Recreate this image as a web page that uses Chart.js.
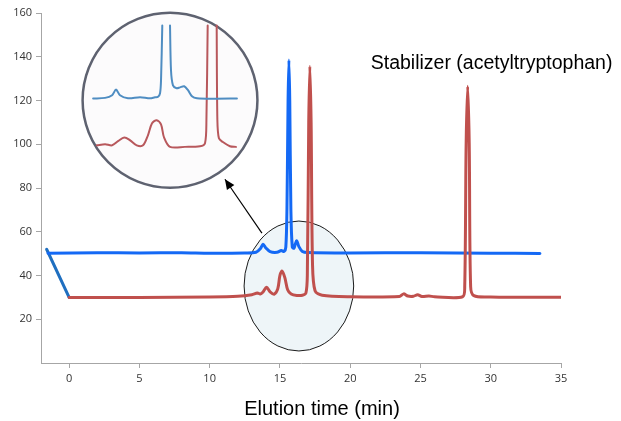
<!DOCTYPE html>
<html>
<head>
<meta charset="utf-8">
<script src="https://cdn.jsdelivr.net/npm/chart.js@4.4.1/dist/chart.umd.min.js"></script>
<style>
html,body{margin:0;padding:0;background:#fff;}
#wrap{width:621px;height:421px;position:relative;}
</style>
</head>
<body>
<div id="wrap"><canvas id="c" width="621" height="421"></canvas></div>
<script>
// ---- data (elution time in min, signal) ----
const xTicks = [0, 5, 10, 15, 20, 25, 30, 35];
const yTicks = [20, 40, 60, 80, 100, 120, 140, 160];

const blueTrace = [
  [-1.5,50.2],[2,50.4],[5,50.3],[8,50.4],[10,50.2],[12.5,50.3],[13.3,50.6],[13.6,52.2],[13.8,54.3],
  [14.0,52.6],[14.3,50.9],[14.8,50.6],[15.1,51.4],[15.3,51.0],[15.42,53],[15.5,70],[15.58,120],
  [15.64,138.5],[15.7,120],[15.78,70],[15.88,53],[16.0,52.5],[16.1,54.5],[16.2,55.8],[16.35,53.2],
  [16.6,51.0],[17,50.5],[20,50.3],[25,50.4],[30,50.2],[33.5,50.1]
];
const blueStart = [[-1.6,52],[0,30]];
const redTrace = [
  [0,30],[5,30],[10,30.2],[12,30.5],[13,31.2],[13.4,32],[13.6,31.5],[13.8,32.5],[14.05,34.6],
  [14.3,32.5],[14.6,31.5],[14.85,34],[15.0,40],[15.15,42],[15.35,39],[15.55,33.5],[15.8,31.5],
  [16.2,30.9],[16.6,31],[16.85,32],[16.95,40],[17.05,110],[17.13,135.7],[17.22,110],[17.32,45],
  [17.5,33],[18,31],[20,30.3],[23.5,30.4],[23.8,31.6],[24.1,30.6],[24.5,30.5],[24.8,31.2],
  [25.1,30.4],[25.6,30.6],[26,30.3],[28,30.3],[28.15,35],[28.25,100],[28.36,126.5],[28.47,100],
  [28.57,35],[28.8,30.8],[30,30.2],[35,30]
];
// zoomed inset traces (drawn in the same axes)
const insetBlue = [
  [1.71,120.9],[2.56,121.2],[3.06,122.4],[3.34,125.0],[3.62,122.4],[4.19,121.0],[5.05,121.5],
  [5.76,121.0],[6.11,121.5],[6.33,121.7],[6.47,123.3],[6.54,129.2],[6.63,154.3],[6.9,null],
  [7.18,154.3],[7.25,133.8],[7.39,126.9],[7.65,125.6],[7.89,126.0],[8.19,126.5],[8.46,124.7],
  [8.74,121.9],[9.10,121.0],[10.38,120.8],[11.94,120.9]
];
const insetRed = [
  [1.97,99.5],[2.56,100.0],[3.06,99.5],[3.48,101.4],[3.93,103.1],[4.34,101.8],[4.81,99.5],
  [5.26,99.5],[5.61,104.1],[5.90,109.6],[6.23,111.0],[6.54,109.1],[6.75,103.2],[7.18,98.8],
  [8.24,98.8],[9.31,99.1],[9.67,100.5],[9.77,111.0],[9.86,154.3],[10.2,null],[10.50,154.3],
  [10.55,111.0],[10.66,102.7],[10.94,101.0],[11.44,99.1],[11.87,98.8]
];
const annotationText = "Stabilizer (acetyltryptophan)";
const xTitle = "Elution time (min)";

const toPts = a => a.map(p => ({x: p[0], y: p[1]}));

const deco = {
  id: 'deco',
  beforeDatasetsDraw(chart) {
    const {ctx, scales: {x, y}} = chart;
    const ell = (cx, cy, rx, ry, fill, stroke, lw) => {
      const px = x.getPixelForValue(cx), py = y.getPixelForValue(cy);
      const prx = x.getPixelForValue(cx + rx) - px;
      const pry = py - y.getPixelForValue(cy + ry);
      ctx.save();
      ctx.beginPath();
      ctx.ellipse(px, py, prx, pry, 0, 0, Math.PI * 2);
      ctx.fillStyle = fill; ctx.fill();
      ctx.lineWidth = lw; ctx.strokeStyle = stroke; ctx.stroke();
      ctx.restore();
    };
    ell(16.35, 35.2, 3.9, 29.7, '#eef5f8', '#1a1a1a', 1);
    ell(7.18, 120.1, 6.22, 40.0, '#fcfbfc', '#5e6270', 2.5);
  },
  afterDraw(chart) {
    const {ctx, scales: {x, y}, chartArea} = chart;
    // arrow
    const x0 = x.getPixelForValue(13.72), y0 = y.getPixelForValue(59.4);
    const x1 = x.getPixelForValue(11.09), y1 = y.getPixelForValue(84.0);
    ctx.save();
    ctx.strokeStyle = '#000'; ctx.fillStyle = '#000'; ctx.lineWidth = 1.2;
    ctx.beginPath(); ctx.moveTo(x0, y0); ctx.lineTo(x1, y1); ctx.stroke();
    const ang = Math.atan2(y1 - y0, x1 - x0), L = 10, W = 4.5;
    ctx.beginPath();
    ctx.moveTo(x1, y1);
    ctx.lineTo(x1 - L*Math.cos(ang) + W*Math.sin(ang), y1 - L*Math.sin(ang) - W*Math.cos(ang));
    ctx.lineTo(x1 - L*Math.cos(ang) - W*Math.sin(ang), y1 - L*Math.sin(ang) + W*Math.cos(ang));
    ctx.closePath(); ctx.fill();
    // texts
    ctx.fillStyle = '#000';
    ctx.textAlign = 'center'; ctx.textBaseline = 'middle';
    ctx.font = '19.5px "Liberation Sans", Arial, sans-serif';
    ctx.fillText(annotationText, x.getPixelForValue(30.06), y.getPixelForValue(137));
    ctx.font = '20px "Liberation Sans", Arial, sans-serif';
    ctx.fillText(xTitle, (chartArea.left + chartArea.right) / 2 + 21, 409);
    ctx.restore();
  }
};

const lineDs = (label, data, color, width) => ({
  label, data: toPts(data), borderColor: color, borderWidth: width,
  pointRadius: 0, tension: 0.3, fill: false, spanGaps: false,
  borderCapStyle: 'round', borderJoinStyle: 'round'
});

new Chart(document.getElementById('c'), {
  type: 'line',
  data: {
    datasets: [
      lineDs('inset blue', insetBlue, '#4f8dc2', 2),
      lineDs('inset red', insetRed, '#b8585c', 2),
      lineDs('red', redTrace, '#c0504d', 3),
      lineDs('blue', blueTrace, '#1469f5', 3),
      Object.assign(lineDs('blue start', blueStart, '#1f6fc0', 3), {tension: 0})
    ]
  },
  options: {
    responsive: false,
    animation: false,
    layout: {padding: {top: 13, right: 60, left: 0, bottom: 0}},
    plugins: {legend: {display: false}, tooltip: {enabled: false}},
    scales: {
      x: {
        type: 'linear', min: -2, max: 35,
        afterBuildTicks: s => { s.ticks = xTicks.map(v => ({value: v})); },
        afterFit: s => { s.height = 58; },
        grid: {display: true, drawOnChartArea: false, drawTicks: true, tickLength: 5, color: '#a6a6a6'},
        border: {display: true, color: '#a6a6a6', width: 1},
        ticks: {color: '#333', font: {size: 11, family: '"Open Sans", "Liberation Sans", sans-serif'}, padding: 4, maxRotation: 0}
      },
      y: {
        type: 'linear', min: 0, max: 160,
        afterBuildTicks: s => { s.ticks = yTicks.map(v => ({value: v})); },
        afterFit: s => { s.width = 41; },
        grid: {display: true, drawOnChartArea: false, drawTicks: true, tickLength: 5, color: '#a6a6a6'},
        border: {display: true, color: '#a6a6a6', width: 1},
        ticks: {color: '#333', font: {size: 11, family: '"Open Sans", "Liberation Sans", sans-serif'}, padding: 4}
      }
    }
  },
  plugins: [deco]
});
</script>
</body>
</html>
